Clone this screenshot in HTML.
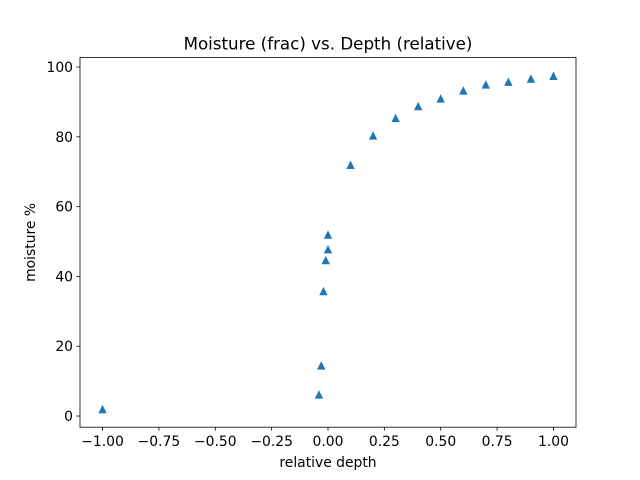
<!DOCTYPE html>
<html><head><meta charset="utf-8"><style>
body{margin:0;background:#fff}
svg{display:block;font-family:"DejaVu Sans","Liberation Sans",sans-serif}
</style></head><body>
<svg width="640" height="480" xmlns="http://www.w3.org/2000/svg">
<rect width="640" height="480" fill="#fff"/>
<g id="ax"></g>
</svg>
<script>
const xValues=[-1,-0.04,-0.03,-0.02,-0.01,0,0,0.1,0.2,0.3,0.4,0.5,0.6,0.7,0.8,0.9,1];
const yValues=[2,6.2,14.5,35.8,44.7,47.8,52,72,80.4,85.4,88.8,91,93.3,95,95.8,96.7,97.5];
const xTicks=[-1,-0.75,-0.5,-0.25,0,0.25,0.5,0.75,1];
const xTickLabels=["−1.00","−0.75","−0.50","−0.25","0.00","0.25","0.50","0.75","1.00"];
const yTicks=[0,20,40,60,80,100];
const yTickLabels=["0","20","40","60","80","100"];
const L=80,R=576,T=57.6,B=427.2;
const xmin=-1.1,xmax=1.1;
const ymin=-3.2,ymax=102.7;
const X=v=>L+(v-xmin)/(xmax-xmin)*(R-L);
const Y=v=>B-(v-ymin)/(ymax-ymin)*(B-T);
const NS="http://www.w3.org/2000/svg";
const g=document.getElementById('ax');
function mk(tag,attrs,text){const e=document.createElementNS(NS,tag);for(const k in attrs)e.setAttribute(k,attrs[k]);if(text!==undefined)e.textContent=text;g.appendChild(e);return e;}
xTicks.forEach((t,i)=>{
  const l=mk('line',{x1:X(t),x2:X(t),y1:B,y2:B+3.5,stroke:'#000','stroke-width':0.8});
  
  
  const tx=mk('text',{x:X(t),y:B+19,'font-size':13.9,'text-anchor':'middle'},xTickLabels[i]);
  
  
});
yTicks.forEach((t,i)=>{
  const l=mk('line',{x1:L-3.5,x2:L,y1:Y(t),y2:Y(t),stroke:'#000','stroke-width':0.8});
  
  
  const tx=mk('text',{x:L-7,y:Y(t)+5,'font-size':13.9,'text-anchor':'end'},yTickLabels[i]);
  
  
});
xValues.forEach((v,i)=>{
  const cx=X(v),cy=Y(yValues[i]),s=4.2;
  const p=mk('polygon',{points:`${cx},${cy-s} ${cx-s},${cy+s} ${cx+s},${cy+s}`,fill:'#1f77b4'});
  
  
});
const fr=mk('rect',{x:L,y:T,width:R-L,height:B-T,fill:'none',stroke:'#000','stroke-width':0.8});


const ti=mk('text',{x:(L+R)/2,y:T-8,'font-size':16.7,'text-anchor':'middle'},'Moisture (frac) vs. Depth (relative)');


const xl=mk('text',{x:(L+R)/2,y:467,'font-size':13.9,'text-anchor':'middle'},'relative depth');


const yl=mk('text',{x:0,y:0,'font-size':13.9,'text-anchor':'middle',transform:`translate(35,${(T+B)/2}) rotate(-90)`},'moisture %');


</script>
</body></html>
